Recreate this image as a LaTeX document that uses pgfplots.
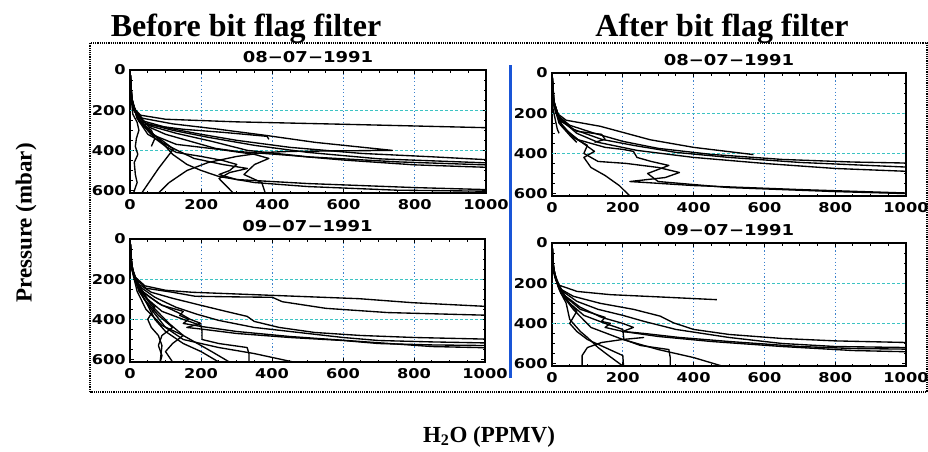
\documentclass[border=0pt]{standalone}
\usepackage{fontspec}
\setmainfont{Liberation Serif}
\newfontfamily\idl{DejaVu Sans}[FakeStretch=1.2]
\usepackage{pgfplots}
\pgfplotsset{compat=1.18}
\definecolor{gridx}{RGB}{60,130,205}
\definecolor{gridy}{RGB}{60,195,195}
\definecolor{barblue}{RGB}{25,85,215}
\newcommand\tickfont{\idl\bfseries\fontsize{13.5}{14}\selectfont}
\newcommand\datefont{\idl\bfseries\fontsize{15}{16}\selectfont}
\pgfplotsset{
  panel/.style={
    scale only axis, width=355pt, height=123pt,
    xmin=0, xmax=1000, ymin=0, ymax=612, y dir=reverse,
    line width=2.2pt,
    xtick={0,200,400,600,800,1000}, xticklabels={0,200,400,600,800,1000},
    ytick={0,200,400,600}, yticklabels={0,200,400,600},
    minor x tick num=3, minor y tick num=3,
    tick align=inside, major tick length=4pt, minor tick length=2.5pt,
    tick style={black, line width=1pt},
    ticklabel style={font=\tickfont},
    xticklabel style={yshift=-2pt},
    axis line style={line width=2.2pt},
    xmajorgrids=true,
    major x grid style={gridx, line width=0.8pt, dash pattern=on 1.2pt off 2.5pt},
    extra y ticks={200,400}, extra y tick labels={},
    extra y tick style={grid=major, major tick length=0pt,
      major grid style={gridy, line width=0.8pt, dash pattern=on 3pt off 2pt}},
    title style={font=\datefont, yshift=-3pt},
    clip=true,
  },
  prof/.style={black, line width=1.35pt, no marks, line join=round},
}
\begin{document}
\begin{tikzpicture}
\useasboundingbox (0pt,0pt) rectangle (928pt,451pt);
% frame
\draw[line width=1.6pt, dash pattern=on 1.2pt off 1pt] (90pt,59pt) rectangle (927pt,408pt);
% blue separator
\draw[barblue, line width=3pt] (510pt,73pt) -- (510pt,386pt);
% titles
\node[anchor=base, font=\bfseries\fontsize{32}{36}\selectfont] at (246pt,414pt) {Before bit flag filter};
\node[anchor=base, font=\bfseries\fontsize{32}{36}\selectfont] at (722pt,414pt) {After bit flag filter};
\node[rotate=90, font=\bfseries\fontsize{23}{26}\selectfont] at (26pt,228pt) {Pressure (mbar)};
\node[anchor=base, font=\bfseries\fontsize{23}{26}\selectfont] at (489pt,9pt) {H\textsubscript{2}O (PPMV)};

% ---------- Top left: Before, 08-07-1991
\begin{axis}[panel, at={(130pt,258pt)}, anchor=south west, width=356pt, title={08−07−1991}]
\addplot[prof] coordinates {(0,0)(3,120)(10,190)(30,225)(100,245)(300,258)(600,270)(1000,287)};
\addplot[prof] coordinates {(0,0)(3,120)(10,195)(35,240)(120,268)(250,295)(380,325)(520,360)(737,400)(600,402)(450,405)(380,410)(300,430)(220,460)(160,500)(110,560)(80,612)};
\addplot[prof] coordinates {(0,0)(4,130)(12,205)(40,255)(110,290)(200,320)(300,350)(450,385)(650,415)(850,432)(1000,446)};
\addplot[prof] coordinates {(0,0)(4,130)(14,210)(45,265)(120,300)(220,335)(350,375)(500,410)(700,442)(1000,462)};
\addplot[prof] coordinates {(0,0)(5,140)(16,215)(50,275)(130,315)(230,355)(330,400)(500,432)(750,457)(1000,472)};
\addplot[prof] coordinates {(0,0)(5,140)(18,220)(55,285)(100,320)(160,350)(200,370)(240,390)(300,405)(450,425)(600,448)(800,472)(1000,484)};
\addplot[prof] coordinates {(0,0)(5,150)(20,230)(50,300)(70,340)(100,380)(130,410)(200,430)(260,450)(300,470)(280,500)(250,520)(300,545)(500,565)(800,585)(1000,595)};
\addplot[prof] coordinates {(0,0)(5,150)(22,240)(60,310)(90,360)(120,420)(160,470)(200,500)(250,530)(350,560)(500,580)(750,598)(1000,603)};
\addplot[prof] coordinates {(0,0)(4,150)(8,220)(20,260)(25,300)(18,340)(15,380)(22,420)(12,460)(15,520)(20,560)(10,612)};
\addplot[prof] coordinates {(0,0)(5,150)(20,240)(50,300)(90,350)(122,393)(80,490)(33,612)};
\addplot[prof] coordinates {(0,0)(6,160)(25,255)(60,320)(130,370)(250,395)(350,420)(390,440)(350,470)(320,520)(370,560)(380,612)};
\addplot[prof] coordinates {(0,0)(5,150)(20,240)(50,320)(110,380)(180,440)(260,470)(330,490)(280,510)(250,540)(290,612)};
\addplot[prof] coordinates {(0,0)(6,160)(30,260)(60,300)(70,340)(60,380)};
\addplot[prof] coordinates {(0,0)(5,170)(40,270)(150,295)(260,310)(385,330)(390,345)};
\end{axis}

% ---------- Top right: After, 08-07-1991
\begin{axis}[panel, at={(552pt,255pt)}, anchor=south west, width=354pt, title={08−07−1991}]
\addplot[prof] coordinates {(0,0)(3,120)(10,195)(40,235)(136,265)(277,332)(400,370)(569,406)};
\addplot[prof] coordinates {(0,0)(4,130)(15,210)(50,260)(120,300)(200,340)(300,375)(450,405)(650,430)(850,443)(1000,448)};
\addplot[prof] coordinates {(0,0)(4,130)(18,215)(60,280)(140,330)(230,360)(350,395)(500,420)(700,445)(1000,468)};
\addplot[prof] coordinates {(0,0)(5,140)(20,225)(70,300)(130,345)(240,385)(400,420)(600,450)(800,475)(1000,489)};
\addplot[prof] coordinates {(0,0)(5,140)(25,250)(60,320)(100,360)(90,400)(130,440)(210,450)(300,470)(360,495)(320,520)(220,540)(400,560)(700,580)(1000,597)};
\addplot[prof] coordinates {(0,0)(6,150)(30,270)(80,340)(120,390)(90,420)(110,470)(150,510)(190,560)(220,612)};
\addplot[prof] coordinates {(0,0)(6,150)(25,260)(70,330)(150,370)(200,380)(230,390)(240,420)(280,440)(330,460)(270,500)(300,540)(500,570)(800,590)(1000,600)};
\addplot[prof] coordinates {(0,0)(5,160)(20,250)(50,310)(70,345)};
\addplot[prof] coordinates {(0,0)(3,180)(15,280)(20,300)};
\addplot[prof] coordinates {(0,0)(5,150)(25,240)(70,290)(140,305)(150,330)(120,345)};
\end{axis}

% ---------- Bottom left: Before, 09-07-1991
\begin{axis}[panel, at={(130pt,89pt)}, anchor=south west, width=355pt, title={09−07−1991}]
\addplot[prof] coordinates {(0,0)(2,80)(5,140)(15,190)(42,233)(100,255)(175,265)(410,281)(646,297)(797,317)(1000,335)};
\addplot[prof] coordinates {(0,0)(2,80)(6,150)(18,200)(45,245)(120,265)(184,285)(300,288)(401,290)(429,312)(552,345)(726,366)(1000,379)};
\addplot[prof] coordinates {(0,0)(3,100)(8,170)(25,225)(60,265)(120,295)(200,330)(270,360)(330,385)(350,410)(420,440)(520,465)(650,480)(800,490)(1000,498)};
\addplot[prof] coordinates {(0,0)(3,100)(10,180)(30,240)(70,290)(130,340)(190,375)(250,405)(350,440)(500,470)(600,490)(700,505)(850,512)(1000,517)};
\addplot[prof] coordinates {(0,0)(3,110)(12,190)(35,260)(80,320)(140,370)(170,400)(200,420)(160,440)(210,450)(300,470)(450,490)(600,505)(700,520)(850,527)(1000,530)};
\addplot[prof] coordinates {(0,0)(4,120)(14,200)(40,270)(90,330)(150,360)(140,380)(165,400)(150,420)(200,435)(300,460)(450,485)(650,510)(850,535)(1000,541)};
\addplot[prof] coordinates {(0,0)(4,120)(16,210)(45,290)(70,340)(50,400)(60,440)(80,480)(90,530)(85,612)};
\addplot[prof] coordinates {(0,0)(4,130)(18,220)(50,300)(90,360)(150,400)(200,430)(203,460)(203,500)(250,520)(330,540)(335,570)(335,612)};
\addplot[prof] coordinates {(0,0)(5,140)(20,230)(40,300)(80,380)(120,440)(90,480)(80,530)(90,580)(85,612)};
\addplot[prof] coordinates {(0,0)(5,140)(22,240)(60,330)(110,420)(150,480)(120,520)(100,560)(120,612)};
\addplot[prof] coordinates {(0,0)(5,150)(25,250)(50,330)(70,400)(100,460)(150,520)(200,560)(250,612)};
\addplot[prof] coordinates {(0,0)(6,150)(25,260)(60,350)(100,440)(150,500)(250,540)(350,570)(460,612)};
\addplot[prof] coordinates {(0,0)(5,150)(20,260)(45,350)(90,430)(150,480)(230,560)(280,612)};
\end{axis}

% ---------- Bottom right: After, 09-07-1991
\begin{axis}[panel, at={(552pt,85pt)}, anchor=south west, width=354pt, title={09−07−1991}]
\addplot[prof] coordinates {(0,0)(2,80)(5,140)(20,210)(71,241)(165,257)(300,268)(466,282)};
\addplot[prof] coordinates {(0,0)(3,100)(8,170)(25,230)(60,265)(136,300)(230,330)(306,364)(343,397)(400,430)(500,455)(650,475)(800,487)(1000,495)};
\addplot[prof] coordinates {(0,0)(3,100)(10,180)(30,240)(70,290)(130,330)(200,360)(260,390)(350,430)(500,470)(650,500)(800,515)(1000,520)};
\addplot[prof] coordinates {(0,0)(3,110)(12,190)(35,260)(80,320)(140,370)(200,400)(230,420)(200,440)(260,450)(360,470)(500,490)(700,515)(850,525)(1000,528)};
\addplot[prof] coordinates {(0,0)(4,120)(14,200)(40,270)(80,330)(150,370)(140,390)(165,400)(150,420)(200,440)(300,465)(450,490)(650,515)(850,535)(1000,541)};
\addplot[prof] coordinates {(0,0)(4,120)(16,210)(45,290)(70,340)(50,400)(70,440)(100,480)(150,520)(200,560)(202,612)};
\addplot[prof] coordinates {(0,0)(4,130)(18,220)(50,300)(90,360)(150,400)(200,430)(203,480)(250,510)(330,530)(334,570)(334,612)};
\addplot[prof] coordinates {(0,0)(5,140)(20,230)(40,300)(50,380)(80,440)(100,470)(130,520)(160,560)(200,612)};
\addplot[prof] coordinates {(0,0)(5,150)(25,250)(60,330)(110,420)(200,480)(300,530)(400,570)(480,612)};
\addplot[prof] coordinates {(85,612)(85,560)(100,520)(140,495)(200,480)(260,470)};
\end{axis}
\end{tikzpicture}
\end{document}
